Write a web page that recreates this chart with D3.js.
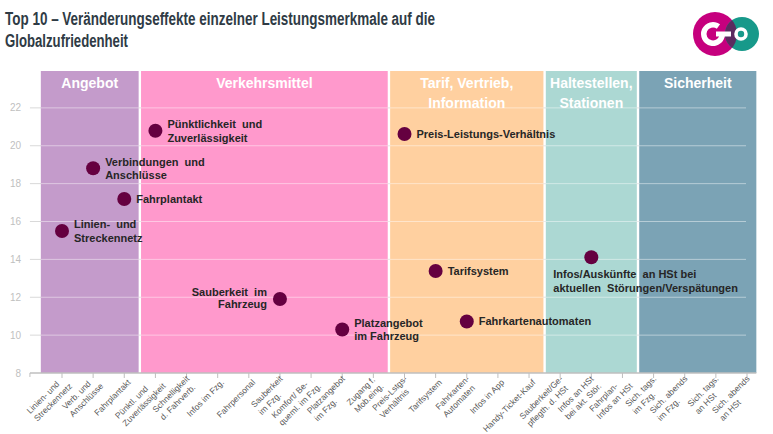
<!DOCTYPE html>
<html><head><meta charset="utf-8">
<script src="https://cdn.jsdelivr.net/npm/d3@7"></script>
<style>
html,body{margin:0;padding:0;background:#fff;}
svg{display:block;font-family:"Liberation Sans",Arial,sans-serif;}
</style></head>
<body><svg id="chart" width="773" height="434"></svg>
<script>
// ---------- data ----------
const categories = [
  "Linien- und\nStreckennetz","Verb. und\nAnschlüsse","Fahrplantakt","Pünktl. und\nZuverlässigkeit",
  "Schnelligkeit\nd. Fahrverb.","Infos im Fzg.","Fahrpersonal","Sauberkeit\nim Fzg.",
  "Komfort/ Be-\nqueml. im Fzg.","Platzangebot\nim Fzg.","Zugang f.\nMob.eing.",
  "Preis-Lstgs-\nVerhältnis","Tarifsystem","Fahrkarten-\nAutomaten","Infos in App","Handy-Ticket-Kauf",
  "Sauberkeit/Ge-\npflegth. d. HSt","Infos an HSt\nbei akt. Stör.","Fahrplan-\nInfos an HSt",
  "Sich. tags.\nim Fzg.","Sich. abends\nim Fzg.","Sich. tags.\nan HSt","Sich. abends\nan HSt"
];
const groupNames = ["Angebot","Verkehrsmittel","Tarif, Vertrieb,\nInformation","Haltestellen,\nStationen","Sicherheit"];
const groupSizes = [3, 8, 5, 3, 4];
const groupColors = ["#c49bcb","#ff99cc","#ffd0a0","#acd8d3","#7ba3b5"];

const topNames = [
  "Linien-  und\nStreckennetz","Verbindungen  und\nAnschlüsse","Fahrplantakt","Pünktlichkeit  und\nZuverlässigkeit",
  "Sauberkeit  im\nFahrzeug","Platzangebot\nim Fahrzeug","Preis-Leistungs-Verhältnis","Tarifsystem",
  "Fahrkartenautomaten","Infos/Auskünfte  an HSt bei\naktuellen  Störungen/Verspätungen"
];
const topCategoryIndex = [0, 1, 2, 3, 7, 9, 11, 12, 13, 17];
const topValues = [15.5, 18.81, 17.19, 20.79, 11.91, 10.3, 20.62, 13.39, 10.72, 14.11];
const yTicks = [8, 10, 12, 14, 16, 18, 20, 22];
const labelSide = ["right","right","right","right","left","right","right","right","right","below"];

// ---------- layout ----------
const svg = d3.select("#chart");
const x = d3.scalePoint().domain(categories).range([62, 747]);
const step = x.step();
const y = d3.scaleLinear().domain([8, 24]).range([373, 70]);
const axisLeft = x(categories[0]) - step * 1.03;
const axisRight = x(categories[categories.length-1]) + step * 0.3;
const bandLeft = x(categories[0]) - step * 0.68;
const gridRight = x(categories[categories.length-1]) - 1;

// title
const title = svg.append("g").attr("fill", "#2f3b45").attr("font-weight", "bold")
  .style("font-family", "'Liberation Sans Narrow','Arial Narrow','Liberation Sans',sans-serif")
  .attr("font-size", 18);
title.append("text").attr("x", 5).attr("y", 25)
  .attr("textLength", 430).attr("lengthAdjust", "spacingAndGlyphs")
  .text("Top 10 – Veränderungseffekte einzelner Leistungsmerkmale auf die");
title.append("text").attr("x", 5).attr("y", 47)
  .attr("textLength", 123).attr("lengthAdjust", "spacingAndGlyphs")
  .text("Globalzufriedenheit");

// logo
const logo = svg.append("g");
const defs = svg.append("defs");
defs.append("clipPath").attr("id", "magClip").append("circle").attr("cx", 715).attr("cy", 34).attr("r", 22);
logo.append("circle").attr("cx", 715).attr("cy", 34).attr("r", 22).attr("fill", "#c6007e");
logo.append("circle").attr("cx", 742).attr("cy", 34).attr("r", 17).attr("fill", "#17998a");
logo.append("circle").attr("cx", 742).attr("cy", 34).attr("r", 17).attr("fill", "#5b2b5f").attr("clip-path", "url(#magClip)");
const gArc = d3.arc().innerRadius(6.5).outerRadius(12).startAngle(Math.PI * 0.5).endAngle(Math.PI * 2.2);
logo.append("path").attr("d", gArc()).attr("transform", "translate(713,34)").attr("fill", "#fff");
logo.append("rect").attr("x", 716).attr("y", 31.5).attr("width", 15).attr("height", 5).attr("fill", "#fff");
logo.append("circle").attr("cx", 741).attr("cy", 34).attr("r", 5).attr("fill", "none").attr("stroke", "#fff").attr("stroke-width", 3.6);

// gray gridlines (visible outside the bands)
svg.append("g").selectAll("line").data(yTicks.filter(d => d > 8)).join("line")
  .attr("x1", axisLeft).attr("x2", gridRight)
  .attr("y1", d => y(d)).attr("y2", d => y(d))
  .attr("stroke", "#d9d9d9").attr("stroke-width", 1);

// group bands
let start = 0;
const groups = groupSizes.map((n, i) => {
  const s = start, e = start + n - 1; start += n;
  const left = s === 0 ? bandLeft : (x(categories[s-1]) + x(categories[s])) / 2 + 1.2;
  const right = e === categories.length - 1 ? axisRight : (x(categories[e]) + x(categories[e+1])) / 2 - 1.2;
  return {name: groupNames[i], color: groupColors[i], left, right};
});
const bandG = svg.append("g");
bandG.selectAll("rect").data(groups).join("rect")
  .attr("x", d => d.left).attr("width", d => d.right - d.left)
  .attr("y", y(24) + 1).attr("height", y(8) - y(24) - 1)
  .attr("fill", d => d.color);

// white gridlines over the bands
svg.append("g").selectAll("line").data(yTicks.filter(d => d > 8)).join("line")
  .attr("x1", bandLeft).attr("x2", gridRight)
  .attr("y1", d => y(d)).attr("y2", d => y(d))
  .attr("stroke", "#ffffff").attr("stroke-opacity", 0.45).attr("stroke-width", 1);

// band headers
const hdr = svg.append("g").attr("fill", "#fff").attr("font-weight", "bold").attr("font-size", 14).attr("text-anchor", "middle");
groups.forEach(g => {
  g.name.split("\n").forEach((ln, j) => {
    hdr.append("text").attr("x", (g.left + g.right) / 2).attr("y", 88 + j * 19.5).text(ln);
  });
});

// y tick labels
svg.append("g").selectAll("text").data(yTicks).join("text")
  .attr("x", 21).attr("y", d => y(d) + 3.5).attr("text-anchor", "end")
  .attr("font-size", 10).attr("fill", "#bfbfbf").text(d => d);

// x axis
const ax = svg.append("g");
ax.append("line").attr("x1", axisLeft).attr("x2", axisRight).attr("y1", y(8)).attr("y2", y(8))
  .attr("stroke", "#bfbfbf").attr("stroke-width", 1.5);
ax.selectAll("line.tick").data(categories).join("line").attr("class", "tick")
  .attr("x1", d => x(d)).attr("x2", d => x(d)).attr("y1", y(8)).attr("y2", y(8) + 5)
  .attr("stroke", "#bfbfbf").attr("stroke-width", 1);
ax.append("line").attr("x1", axisLeft).attr("x2", axisLeft).attr("y1", y(8)).attr("y2", y(8) + 4)
  .attr("stroke", "#bfbfbf").attr("stroke-width", 1);
categories.forEach(c => {
  const lines = c.split("\n");
  const g = ax.append("g").attr("transform", `translate(${x(c) + 2},${y(8) + 5}) rotate(-45)`)
    .attr("font-size", 8.5).attr("fill", "#595959");
  const ts = lines.map((ln, j) => g.append("text").attr("y", 7 + j * 10.5).text(ln));
  const W = d3.max(ts, t => t.node().getComputedTextLength());
  const off = (lines.length - 1) * 5.2;
  ts.forEach(t => t.attr("x", -W).attr("y", +t.attr("y") - off));
});

// points
const pts = svg.append("g");
topNames.forEach((name, i) => {
  const cx = x(categories[topCategoryIndex[i]]), cy = y(topValues[i]);
  pts.append("circle").attr("cx", cx).attr("cy", cy).attr("r", 7).attr("fill", "#650040");
  const lines = name.split("\n");
  const side = labelSide[i];
  const t = pts.append("text").attr("font-size", 11).attr("font-weight", "bold").attr("fill", "#262626")
    .style("white-space", "pre");
  lines.forEach((ln, j) => {
    let tx, ty, anchor;
    if (side === "right") { tx = cx + 12; anchor = "start"; ty = cy + 4 - (lines.length - 1) * 6.5 + j * 13.5; }
    else if (side === "left") { tx = cx - 13; anchor = "end"; ty = cy - 3 + j * 12.5; }
    else { tx = cx - 38; anchor = "start"; ty = cy + 21 + j * 13.5; }
    t.append("tspan").attr("x", tx).attr("y", ty).attr("text-anchor", anchor).text(ln);
  });
});
</script></body></html>
